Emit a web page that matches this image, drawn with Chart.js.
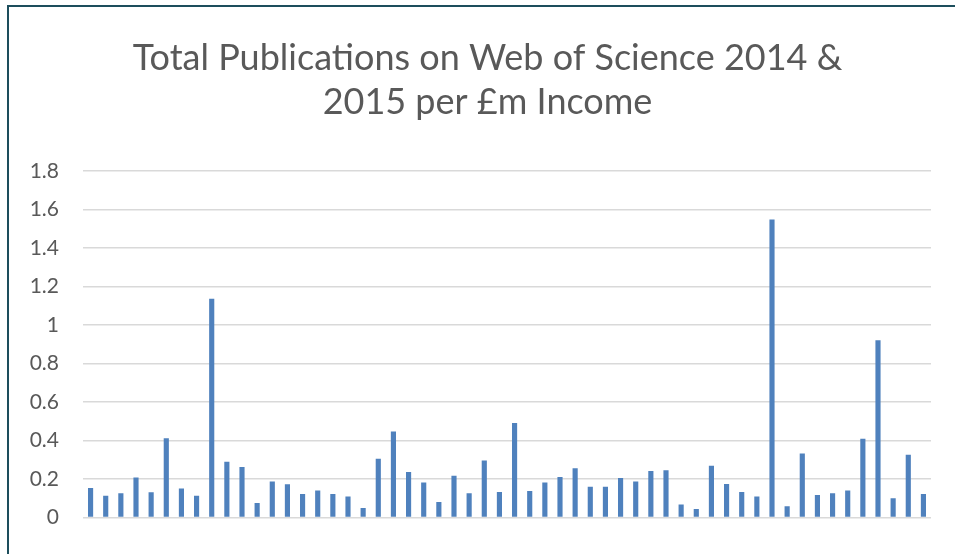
<!DOCTYPE html>
<html lang="en">
<head>
  <meta charset="UTF-8">
  <title>Total Publications per £m Income</title>
  <script src="https://cdn.jsdelivr.net/npm/chart.js"></script>
  <style>
    body {
      margin: 0;
      background: #ffffff;
    }

    .wrap {
      position: relative;
      width: 955px;
      height: 554px;
    }

    .frame {
      position: absolute;
      left: 7px;
      top: 5px;
      right: 0;
      bottom: 0;
      border-left: 2px solid #1d4e5c;
      border-top: 2px solid #1d4e5c;
      pointer-events: none;
    }
  </style>
</head>
<body>
  <div class="wrap">
    <canvas id="pubChart" width="955" height="554"></canvas>
    <div class="frame"></div>
  </div>

  <script>
    // one bar per institution (names are cut off in the source picture)
    const institutions = Array.from({ length: 56 }, (_, i) => 'Institution ' + (i + 1));

    const pubsPerIncome = [
      0.153, 0.112, 0.126, 0.208, 0.131, 0.412, 0.150, 0.112, 1.137, 0.289,
      0.262, 0.075, 0.186, 0.172, 0.121, 0.140, 0.121, 0.109, 0.049, 0.305,
      0.446, 0.236, 0.181, 0.080, 0.217, 0.126, 0.296, 0.132, 0.491, 0.137,
      0.181, 0.210, 0.255, 0.159, 0.159, 0.205, 0.186, 0.241, 0.245, 0.067,
      0.044, 0.268, 0.173, 0.132, 0.109, 1.549, 0.058, 0.332, 0.116, 0.126,
      0.140, 0.409, 0.921, 0.099, 0.326, 0.121
    ];

    const titleLines = ['Total Publications on Web of Science 2014 &', '2015 per £m Income'];

    const ctx = document.getElementById('pubChart').getContext('2d');

    new Chart(ctx, {
      type: 'bar',
      data: {
        labels: institutions,
        datasets: [{
          label: 'Publications per £m income',
          data: pubsPerIncome,
          backgroundColor: '#4f81bd',
          borderWidth: 0,
          barPercentage: 0.34,
          categoryPercentage: 1.0
        }]
      },
      options: {
        responsive: false,
        animation: false,
        layout: {
          // left padding shifts the title centre to match the original
          padding: { left: 20, right: 0, top: 0, bottom: 32 }
        },
        plugins: {
          legend: { display: false },
          tooltip: { enabled: false },
          title: {
            display: true,
            text: titleLines,
            color: '#595959',
            font: { family: 'Lato', size: 36, weight: 'normal', lineHeight: 1.21 },
            padding: { top: 37, bottom: 47 }
          }
        },
        scales: {
          x: {
            display: false
          },
          y: {
            min: 0,
            max: 1.8,
            border: { display: false },
            grid: {
              color: '#d9d9d9',
              lineWidth: 1.5,
              drawTicks: false
            },
            ticks: {
              stepSize: 0.2,
              padding: 24,
              color: '#595959',
              font: { family: 'Lato', size: 21 },
              callback: v => Math.round(v * 10) / 10
            },
            afterFit: scale => { scale.width = 63; }
          },
          // empty spacer on the right so the plot ends where the original does
          spacer: {
            position: 'right',
            border: { display: false },
            grid: { display: false },
            ticks: { display: false },
            afterFit: scale => { scale.width = 24; }
          }
        }
      }
    });
  </script>
</body>
</html>
